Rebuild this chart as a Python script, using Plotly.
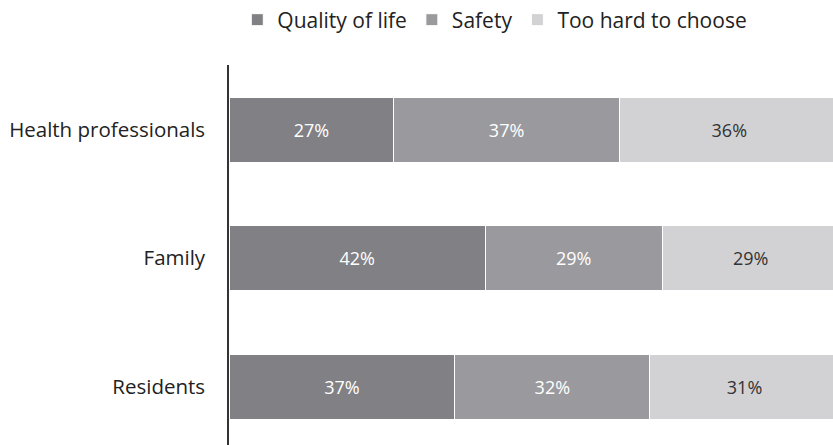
import plotly.graph_objects as go

groups = ["Health professionals", "Family", "Residents"]
quality = [27, 42, 37]
safety = [37, 29, 32]
too_hard = [36, 29, 31]
series_names = ["Quality of life", "Safety", "Too hard to choose"]
colors = ["#818185", "#9a9a9e", "#d2d2d4"]
text_colors = ["#ffffff", "#ffffff", "#333333"]

fig = go.Figure()
for name, vals, c, tc in zip(series_names, [quality, safety, too_hard], colors, text_colors):
    fig.add_trace(go.Bar(
        y=groups, x=vals, name=name, orientation="h",
        marker=dict(color=c, line=dict(color="#ffffff", width=1)),
        text=[f"{v}%" for v in vals], textposition="inside",
        insidetextanchor="middle",
        textfont=dict(color=tc, size=18, family="Open Sans"),
        width=0.506,
    ))

fig.update_layout(
    barmode="stack",
    width=833, height=445,
    margin=dict(l=229, r=0, t=65, b=0, autoexpand=False),
    paper_bgcolor="white", plot_bgcolor="white",
    font=dict(family="Open Sans", size=20, color="#222222"),
    showlegend=True,
    legend=dict(orientation="h", x=0.594, xanchor="center", xref="container",
                y=0.955, yanchor="middle", yref="container",
                font=dict(size=21, color="#222222"),
                traceorder="normal", itemwidth=30),
    xaxis=dict(range=[0, 99.0], showgrid=False, zeroline=False, showticklabels=False,
               showline=False, fixedrange=True, automargin=False),
    yaxis=dict(range=[2.455, -0.502], showgrid=False, zeroline=False,
               showline=True, linecolor="#333333", linewidth=1.5, automargin=False,
               ticks="", ticklabelstandoff=18, tickfont=dict(size=20.5, color="#222222")),
    uniformtext=dict(mode="show", minsize=10),
)
fig.write_html(
    "out.html",
    config={"displayModeBar": False},
    post_script="document.body.style.margin='0';document.body.style.overflow='hidden';",
)
